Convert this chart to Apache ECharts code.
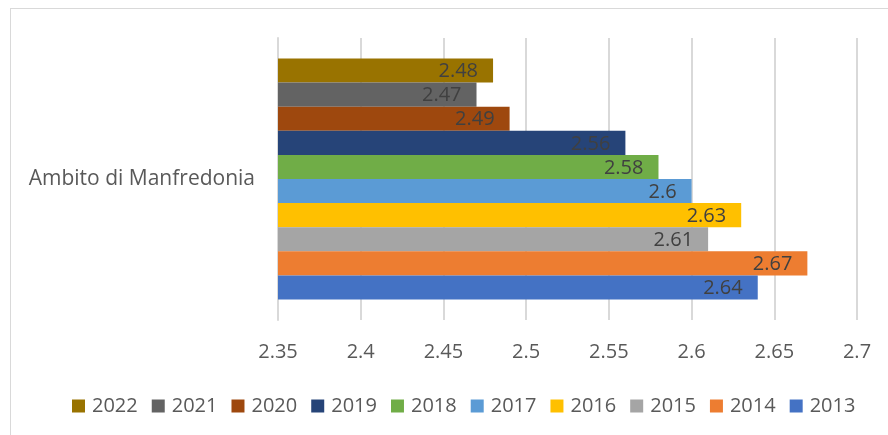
<!DOCTYPE html>
<html>
<head>
<meta charset="utf-8">
<script src="https://cdn.jsdelivr.net/npm/echarts@6/dist/echarts.min.js"></script>
<style>
  html, body { margin: 0; padding: 0; background: #fff; }
  #frame {
    position: absolute; left: 10px; top: 8px; width: 890px; height: 440px;
    border: 1px solid #d9d9d9; box-sizing: border-box;
  }
  #chart { position: absolute; left: 0; top: 0; width: 888px; height: 435px; }
</style>
</head>
<body>
<div id="frame"></div>
<div id="chart"></div>
<script>
const categories = ["Ambito di Manfredonia"];
// top to bottom, same order as the legend
const years = ["2022", "2021", "2020", "2019", "2018", "2017", "2016", "2015", "2014", "2013"];
const values = [2.48, 2.47, 2.49, 2.56, 2.58, 2.6, 2.63, 2.61, 2.67, 2.64];
const colors = ["#997300", "#636363", "#9E480E", "#264478", "#70AD47", "#5B9BD5", "#FFC000", "#A5A5A5", "#ED7D31", "#4472C4"];
const xTicks = [2.35, 2.4, 2.45, 2.5, 2.55, 2.6, 2.65, 2.7];

const font = "Open Sans";
const chart = echarts.init(document.getElementById("chart"));

const series = years.map(function (y, i) {
  return {
    name: y,
    type: "bar",
    data: [values[i]],
    itemStyle: { color: colors[i] },
    barGap: "0%",
    barCategoryGap: "14.5%",
    label: {
      show: true,
      position: "insideRight",
      distance: 15,
      color: "#404040",
      fontSize: 20,
      fontFamily: font,
      offset: [0, 1],
      formatter: function (p) { return String(p.value); }
    }
  };
});

chart.setOption({
  animation: false,
  grid: { left: 278, right: 31, top: 38, bottom: 115, containLabel: false },
  legend: {
    data: years,
    bottom: 14,
    left: 67,
    itemWidth: 13,
    itemHeight: 13,
    itemGap: 14,
    icon: "rect",
    textStyle: { color: "#595959", fontSize: 20, fontFamily: font, padding: [0, 0, 0, 2] }
  },
  xAxis: {
    type: "value",
    min: xTicks[0],
    max: xTicks[xTicks.length - 1],
    interval: 0.05,
    axisLine: { show: false },
    axisTick: { show: false },
    axisLabel: {
      color: "#595959", fontSize: 20, fontFamily: font, margin: 22,
      formatter: function (v) { return String(parseFloat(v.toFixed(2))); }
    },
    splitLine: { lineStyle: { color: "#d9d9d9", width: 2 } }
  },
  yAxis: {
    type: "category",
    data: categories,
    axisLine: { lineStyle: { color: "#d9d9d9", width: 2 } },
    axisTick: { show: false },
    axisLabel: { color: "#595959", fontSize: 21, fontFamily: font, margin: 23 }
  },
  series: series
});
</script>
</body>
</html>
